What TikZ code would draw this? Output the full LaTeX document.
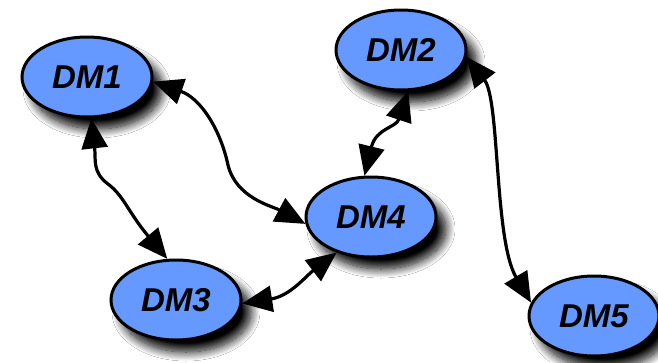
\documentclass[tikz,border=0pt]{standalone}
\usepackage{fontspec}
\newfontfamily\dmfont{Liberation Sans}
\usetikzlibrary{shapes.geometric,arrows.meta,shadows.blur}
\definecolor{dmblue}{RGB}{102,153,255}
\tikzset{
  dm/.style={ellipse, draw=black, line width=3pt, fill=dmblue,
    minimum width=130pt, minimum height=80pt, inner sep=0pt,
    font=\dmfont\bfseries\itshape\fontsize{33}{33}\selectfont,
    blur shadow={shadow xshift=10pt, shadow yshift=-12pt,
      shadow blur radius=9pt, shadow blur steps=14, shadow opacity=100}},
  link/.style={line width=3.2pt, draw=black,
    >={Triangle[length=30pt,width=26pt]}, <->}
}
\begin{document}
\begin{tikzpicture}[x=1pt,y=-1pt]
\useasboundingbox[fill=white] (0,0) rectangle (658,362);
% nodes
\node[dm] (DM1) at (87,77) {DM1};
\node[dm] (DM2) at (401,50) {DM2};
\node[dm] (DM4) at (371,217) {DM4};
\node[dm] (DM3) at (176,300) {DM3};
\node[dm] (DM5) at (594,316) {DM5};
% connectors
\draw[link] (DM1.-84) .. controls (96,160) and (92,172) .. (108,184)
  .. controls (124,196) and (128,212) .. (DM3.102);
\draw[link] (DM1.-4) .. controls (200,98) and (220,128) .. (228,165)
  .. controls (236,198) and (272,206) .. (DM4.186);
\draw[link] (DM2.-80) .. controls (396,128) and (376,128) .. (DM4.99);
\draw[link] (DM3.-3) .. controls (290,296) and (306,276) .. (DM4.226);
\draw[link] (DM2.-6) .. controls (500,100) and (494,240) .. (DM5.168);
\end{tikzpicture}
\end{document}
